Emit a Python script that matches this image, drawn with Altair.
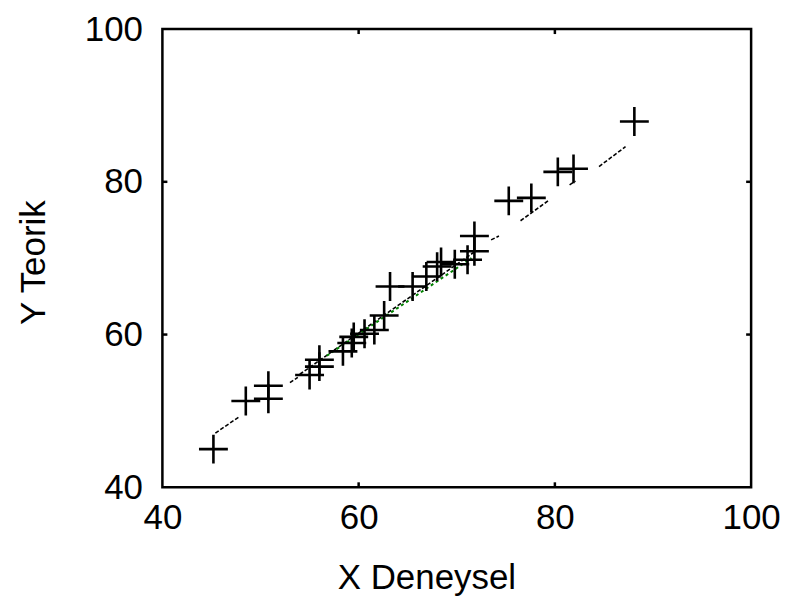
import altair as alt
import pandas as pd

# Data points (X Deneysel, Y Teorik)
x_vals = [45.2, 48.5, 50.8, 50.8, 55.0, 56.0, 56.0, 58.4, 59.3, 59.5, 60.6, 61.6, 62.6,
          63.2, 65.5, 66.9, 68.0, 68.4, 69.8, 71.1, 71.8, 71.8, 75.3, 77.6, 80.3, 81.9, 88.1]
y_vals = [45.0, 51.3, 51.6, 53.3, 54.7, 55.8, 56.7, 57.8, 58.9, 59.7, 60.1, 60.6, 62.5,
          66.3, 66.3, 67.6, 68.9, 69.5, 69.2, 69.8, 70.9, 72.9, 77.5, 77.9, 81.3, 81.7, 87.9]

# Visible pieces of the black dotted fit line
seg_x1 = [45.4, 53.0, 54.0, 73.5, 76.5, 81.5, 84.5]
seg_y1 = [47.1, 53.7, 54.8, 72.4, 74.9, 79.6, 82.0]
seg_x2 = [47.9, 53.8, 72.0, 74.3, 79.3, 82.1, 87.2]
seg_y2 = [49.3, 54.4, 71.0, 72.9, 77.5, 80.1, 84.6]

# Green dotted segment
green_x = [56.5, 71.5]
green_y = [57.0, 70.0]

tick_vals = [40, 60, 80, 100]
inner_ticks = [60, 80]

W, H = 591, 460
FONT = "Liberation Sans"

pts = pd.DataFrame({"x": x_vals, "y": y_vals})
segs = pd.DataFrame({"x1": seg_x1, "y1": seg_y1, "x2": seg_x2, "y2": seg_y2})
green = pd.DataFrame({"gx": green_x, "gy": green_y})
ticks = pd.DataFrame({"t": inner_ticks})

xs = alt.Scale(domain=[40, 100], nice=False, zero=False)
ys = alt.Scale(domain=[40, 100], nice=False, zero=False)

x_axis = alt.Axis(values=tick_vals, title="X Deneysel", ticks=False, domain=False, grid=False,
                  labelFont=FONT, labelFontSize=35, labelColor="black", labelPadding=13,
                  labelFlush=False, labelOverlap=False,
                  titleFont=FONT, titleFontSize=35, titleFontWeight="normal", titleColor="black",
                  titleX=265, titleY=102, titleAlign="center", titleBaseline="alphabetic")
y_axis = alt.Axis(values=tick_vals, title="Y Teorik", ticks=False, domain=False, grid=False,
                  labelFont=FONT, labelFontSize=35, labelColor="black", labelPadding=20,
                  labelFlush=False, labelOverlap=False,
                  titleFont=FONT, titleFontSize=35, titleFontWeight="normal", titleColor="black",
                  titleAngle=270, titleX=-118, titleY=234, titleAlign="center",
                  titleBaseline="alphabetic")

fit = alt.Chart(segs).mark_rule(color="black", strokeWidth=1.6, strokeDash=[4, 2]).encode(
    x=alt.X("x1:Q", scale=xs, axis=x_axis),
    y=alt.Y("y1:Q", scale=ys, axis=y_axis),
    x2="x2:Q",
    y2="y2:Q",
)

green_line = alt.Chart(green).mark_line(color="#008000", strokeWidth=2, strokeDash=[3, 3],
                                         strokeDashOffset=3).encode(
    x=alt.X("gx:Q", scale=xs, axis=x_axis),
    y=alt.Y("gy:Q", scale=ys, axis=y_axis),
)

points = alt.Chart(pts).mark_point(shape="M-1,0L1,0M0,-1L0,1", size=841, filled=False,
                                   color="black", strokeWidth=2.6, opacity=1).encode(
    x=alt.X("x:Q", scale=xs, axis=x_axis),
    y=alt.Y("y:Q", scale=ys, axis=y_axis),
)

tick_bottom = alt.Chart(ticks).mark_rule(color="black", strokeWidth=2.5).encode(
    x=alt.X("t:Q", scale=xs, axis=x_axis), y=alt.value(H), y2=alt.value(H - 5))
tick_top = alt.Chart(ticks).mark_rule(color="black", strokeWidth=2.5).encode(
    x=alt.X("t:Q", scale=xs, axis=x_axis), y=alt.value(0), y2=alt.value(5))
tick_left = alt.Chart(ticks).mark_rule(color="black", strokeWidth=2.5).encode(
    y=alt.Y("t:Q", scale=ys, axis=y_axis), x=alt.value(0), x2=alt.value(5))
tick_right = alt.Chart(ticks).mark_rule(color="black", strokeWidth=2.5).encode(
    y=alt.Y("t:Q", scale=ys, axis=y_axis), x=alt.value(W), x2=alt.value(W - 5))

chart = alt.layer(fit, green_line, points, tick_bottom, tick_top, tick_left, tick_right).properties(
    width=W, height=H,
    autosize="none",
    padding={"left": 155, "top": 20, "right": 30, "bottom": 112},
    background="white",
).configure_view(stroke="black", strokeWidth=2.5)

chart.save("out.html", embed_options={"renderer": "svg", "actions": False})
